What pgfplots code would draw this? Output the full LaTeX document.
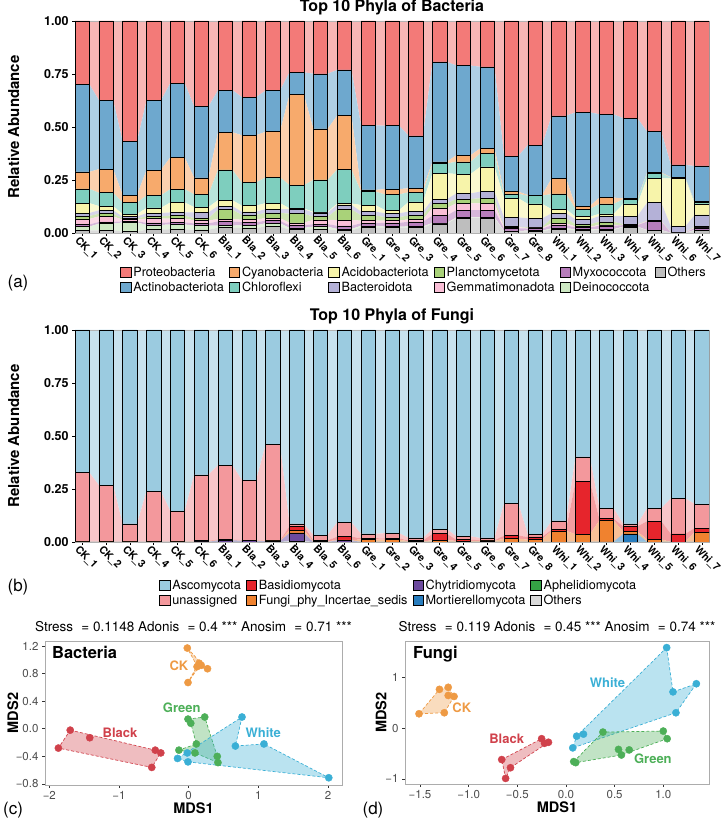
\documentclass[border=0pt]{standalone}
\usepackage{fontspec}
\setmainfont{TeX Gyre Heros}
\usepackage{pgfplots}
\usepackage{pgfplotstable}
\pgfplotsset{compat=1.18}
\newcommand{\fsz}[1]{\fontsize{#1}{#1}\selectfont}

\definecolor{cProt}{RGB}{243,122,120}
\definecolor{cActino}{RGB}{110,168,206}
\definecolor{cCyano}{RGB}{247,170,108}
\definecolor{cChloro}{RGB}{126,206,190}
\definecolor{cAcido}{RGB}{247,244,170}
\definecolor{cBact}{RGB}{180,177,215}
\definecolor{cPlanc}{RGB}{169,210,121}
\definecolor{cGemma}{RGB}{249,190,214}
\definecolor{cMyxo}{RGB}{183,125,187}
\definecolor{cDeino}{RGB}{205,232,195}
\definecolor{cOthB}{RGB}{190,190,190}
\definecolor{cAsco}{RGB}{155,203,224}
\definecolor{cUnas}{RGB}{243,152,156}
\definecolor{cBasid}{RGB}{230,37,44}
\definecolor{cIncert}{RGB}{240,130,47}
\definecolor{cChytr}{RGB}{108,74,158}
\definecolor{cMorti}{RGB}{40,125,190}
\definecolor{cAphel}{RGB}{53,162,69}
\definecolor{cOthF}{RGB}{217,217,217}
\definecolor{gBlack}{RGB}{208,65,75}
\definecolor{gCK}{RGB}{238,154,68}
\definecolor{gGreen}{RGB}{77,175,88}
\definecolor{gWhite}{RGB}{58,175,213}
\definecolor{tickgray}{RGB}{77,77,77}

\pgfplotstableread{
idx Prot Actino Cyano Chloro Acido Bact Planc Gemma Myxo Deino Others
1 0.298 0.414 0.080 0.067 0.047 0.014 0.014 0.026 0.010 0.018 0.012
2 0.373 0.326 0.111 0.063 0.020 0.016 0.013 0.026 0.008 0.031 0.013
3 0.569 0.252 0.036 0.054 0.012 0.008 0.006 0.008 0.005 0.044 0.006
4 0.376 0.328 0.119 0.059 0.024 0.016 0.010 0.020 0.010 0.022 0.016
5 0.293 0.350 0.150 0.063 0.047 0.015 0.014 0.018 0.010 0.022 0.018
6 0.404 0.336 0.078 0.060 0.025 0.027 0.010 0.015 0.010 0.020 0.015
7 0.326 0.199 0.177 0.143 0.028 0.017 0.045 0.010 0.020 0.010 0.025
8 0.359 0.180 0.223 0.109 0.029 0.015 0.022 0.012 0.015 0.012 0.024
9 0.328 0.194 0.215 0.122 0.028 0.018 0.025 0.012 0.012 0.016 0.030
10 0.242 0.105 0.428 0.109 0.003 0.022 0.043 0.012 0.012 0.008 0.016
11 0.249 0.260 0.241 0.151 0.004 0.018 0.015 0.020 0.012 0.012 0.018
12 0.231 0.215 0.255 0.160 0.006 0.022 0.050 0.027 0.015 0.007 0.012
13 0.492 0.305 0.008 0.063 0.031 0.018 0.025 0.012 0.012 0.008 0.026
14 0.494 0.299 0.025 0.074 0.015 0.018 0.017 0.010 0.018 0.005 0.025
15 0.542 0.247 0.019 0.045 0.046 0.018 0.018 0.012 0.022 0.006 0.025
16 0.193 0.471 0.008 0.046 0.123 0.019 0.022 0.036 0.035 0.004 0.043
17 0.210 0.423 0.031 0.058 0.091 0.027 0.020 0.032 0.034 0.004 0.070
18 0.216 0.385 0.024 0.063 0.117 0.031 0.024 0.032 0.034 0.004 0.070
19 0.637 0.168 0.010 0.021 0.090 0.044 0.003 0.005 0.012 0.002 0.008
20 0.585 0.236 0.003 0.039 0.068 0.042 0.003 0.003 0.010 0.003 0.008
21 0.447 0.295 0.074 0.072 0.019 0.024 0.023 0.010 0.014 0.006 0.016
22 0.431 0.442 0.014 0.036 0.013 0.023 0.011 0.004 0.008 0.006 0.012
23 0.440 0.393 0.030 0.047 0.010 0.027 0.015 0.004 0.016 0.004 0.014
24 0.459 0.378 0.004 0.022 0.057 0.039 0.002 0.002 0.007 0.002 0.028
25 0.522 0.193 0.003 0.024 0.115 0.085 0.002 0.002 0.040 0.002 0.012
26 0.679 0.058 0.002 0.004 0.227 0.026 0.001 0.001 0.001 0.000 0.001
27 0.684 0.168 0.003 0.008 0.052 0.055 0.003 0.003 0.010 0.002 0.012
}\bact

\pgfplotstableread{
idx Asco Unas Basid Incert Chytr Morti Aphel Others
1 0.672 0.326 0.001 0.001 0 0 0 0
2 0.732 0.266 0.001 0.001 0 0 0 0
3 0.915 0.083 0.001 0.001 0 0 0 0
4 0.760 0.238 0.001 0.001 0 0 0 0
5 0.854 0.144 0.001 0.001 0 0 0 0
6 0.683 0.311 0.003 0.002 0.001 0 0 0
7 0.637 0.352 0.002 0.001 0.008 0 0 0
8 0.708 0.283 0.002 0.001 0.006 0 0 0
9 0.540 0.454 0.001 0.001 0.004 0 0 0
10 0.914 0.011 0.019 0.013 0.040 0 0 0.003
11 0.967 0.025 0.005 0.003 0 0 0 0
12 0.907 0.068 0.015 0.002 0.008 0 0 0
13 0.962 0.020 0.007 0.011 0 0 0 0
14 0.958 0.025 0.006 0.011 0 0 0 0
15 0.981 0.012 0.004 0.003 0 0 0 0
16 0.939 0.022 0.031 0.008 0 0 0 0
17 0.973 0.016 0.006 0.005 0 0 0 0
18 0.981 0.011 0.003 0.005 0 0 0 0
19 0.819 0.151 0.014 0.016 0 0 0 0
20 0.965 0.011 0.013 0.011 0 0 0 0
21 0.900 0.042 0.005 0.053 0 0 0 0
22 0.598 0.116 0.250 0.036 0 0 0 0
23 0.841 0.049 0.009 0.100 0 0.001 0 0
24 0.915 0.011 0.025 0.011 0 0.038 0 0
25 0.841 0.061 0.086 0.011 0 0 0.001 0
26 0.794 0.168 0.038 0 0 0 0 0
27 0.821 0.113 0.020 0.046 0 0 0 0
}\fung

% flow tables: each sample at both bar edges
\pgfplotstablevertcat{\bL}{\bact}
\pgfplotstablecreatecol[expr={\thisrow{idx}-0.3}]{fx}{\bL}
\pgfplotstablevertcat{\bR}{\bact}
\pgfplotstablecreatecol[expr={\thisrow{idx}+0.3}]{fx}{\bR}
\pgfplotstablevertcat{\bL}{\bR}
\pgfplotstablesort[sort key=fx]{\bflows}{\bL}

\pgfplotstablevertcat{\fL}{\fung}
\pgfplotstablecreatecol[expr={\thisrow{idx}-0.3}]{fx}{\fL}
\pgfplotstablevertcat{\fR}{\fung}
\pgfplotstablecreatecol[expr={\thisrow{idx}+0.3}]{fx}{\fR}
\pgfplotstablevertcat{\fL}{\fR}
\pgfplotstablesort[sort key=fx]{\fflows}{\fL}

\pgfplotsset{
  barbase/.style={scale only axis, width=634pt, height=212pt,
    xmin=0.7, xmax=27.3, ymin=0, ymax=1, anchor=south west},
  flowbase/.style={barbase, hide axis, stack plots=y},
  barax/.style={barbase, ybar stacked, bar width=0.6,
    tick align=outside, tick pos=left, major tick length=3pt,
    tick style={draw=black, line width=0.6pt},
    axis line style={draw=gray!60, line width=0.6pt},
    xtick={1,...,27},
    xticklabels={CK\_1,CK\_2,CK\_3,CK\_4,CK\_5,CK\_6,Bla\_1,Bla\_2,Bla\_3,Bla\_4,Bla\_5,Bla\_6,Gre\_1,Gre\_2,Gre\_3,Gre\_4,Gre\_5,Gre\_6,Gre\_7,Gre\_8,Whi\_1,Whi\_2,Whi\_3,Whi\_4,Whi\_5,Whi\_6,Whi\_7},
    xticklabel style={rotate=-45, anchor=north west, font=\fsz{10.5}\bfseries, inner sep=1pt, xshift=-3pt},
    ytick={0,0.25,0.5,0.75,1},
    yticklabels={0.00,0.25,0.50,0.75,1.00},
    yticklabel style={font=\fsz{12.5}\bfseries},
    ylabel={Relative Abundance},
    ylabel style={at={(axis description cs:-0.097,0.5)}, anchor=center, font=\fsz{15}\bfseries},
    title style={font=\fsz{16}\bfseries, yshift=-4pt},
    legend cell align=left,
    legend image code/.code={\draw[##1, draw=black, line width=0.6pt] (0pt,-5pt) rectangle (10.5pt,5pt);},
  },
  lgd/.style={draw=none, fill=none, inner sep=0pt,
    font=\fsz{12.7}, nodes={inner sep=2pt}, row sep=0pt,
    /tikz/every even column/.append style={column sep=3pt}},
  nmds/.style={scale only axis, anchor=south west, tick align=outside, tick pos=left, major tick length=3pt,
    axis line style={draw=gray!65, line width=0.7pt},
    tick style={draw=gray!40!black, line width=0.6pt},
    ticklabel style={font=\fsz{11.5}, text=tickgray},
    xlabel style={font=\fsz{14.5}\bfseries},
    ylabel style={font=\fsz{14.5}\bfseries},
    title style={font=\fsz{13.5}},
  },
  hull/.style={fill=#1, fill opacity=0.35, draw=#1, draw opacity=1, line width=0.7pt, dash pattern=on 3pt off 2pt},
  pts/.style={only marks, mark=*, mark size=3.6pt, color=#1},
}

\begin{document}
\begin{tikzpicture}
\path[use as bounding box] (0pt,0pt) rectangle (725pt,824pt);

% ================= (a) Bacteria =================
\begin{axis}[flowbase, at={(75pt,591pt)}]
\addplot[draw=none, fill=cOthB!55!white] table[x=fx,y=Others]{\bflows} \closedcycle;
\addplot[draw=none, fill=cDeino!55!white] table[x=fx,y=Deino]{\bflows} \closedcycle;
\addplot[draw=none, fill=cMyxo!55!white] table[x=fx,y=Myxo]{\bflows} \closedcycle;
\addplot[draw=none, fill=cGemma!55!white] table[x=fx,y=Gemma]{\bflows} \closedcycle;
\addplot[draw=none, fill=cPlanc!55!white] table[x=fx,y=Planc]{\bflows} \closedcycle;
\addplot[draw=none, fill=cBact!55!white] table[x=fx,y=Bact]{\bflows} \closedcycle;
\addplot[draw=none, fill=cAcido!55!white] table[x=fx,y=Acido]{\bflows} \closedcycle;
\addplot[draw=none, fill=cChloro!55!white] table[x=fx,y=Chloro]{\bflows} \closedcycle;
\addplot[draw=none, fill=cCyano!55!white] table[x=fx,y=Cyano]{\bflows} \closedcycle;
\addplot[draw=none, fill=cActino!55!white] table[x=fx,y=Actino]{\bflows} \closedcycle;
\addplot[draw=none, fill=cProt!55!white] table[x=fx,y=Prot]{\bflows} \closedcycle;
\end{axis}

\begin{axis}[barax, at={(75pt,591pt)},
  title={Top 10 Phyla of Bacteria},
  legend columns=6,
  legend style={lgd, at={(0.071,-0.222)}, anchor=west},
]
\addlegendimage{fill=cProt}\addlegendentry{Proteobacteria}
\addlegendimage{fill=cCyano}\addlegendentry{Cyanobacteria}
\addlegendimage{fill=cAcido}\addlegendentry{Acidobacteriota}
\addlegendimage{fill=cPlanc}\addlegendentry{Planctomycetota}
\addlegendimage{fill=cMyxo}\addlegendentry{Myxococcota}
\addlegendimage{fill=cOthB}\addlegendentry{Others}
\addlegendimage{fill=cActino}\addlegendentry{Actinobacteriota}
\addlegendimage{fill=cChloro}\addlegendentry{Chloroflexi}
\addlegendimage{fill=cBact}\addlegendentry{Bacteroidota}
\addlegendimage{fill=cGemma}\addlegendentry{Gemmatimonadota}
\addlegendimage{fill=cDeino}\addlegendentry{Deinococcota}
\addplot[fill=cOthB, draw=black, line width=0.5pt] table[x=idx,y=Others]{\bact};
\addplot[fill=cDeino, draw=black, line width=0.5pt] table[x=idx,y=Deino]{\bact};
\addplot[fill=cMyxo, draw=black, line width=0.5pt] table[x=idx,y=Myxo]{\bact};
\addplot[fill=cGemma, draw=black, line width=0.5pt] table[x=idx,y=Gemma]{\bact};
\addplot[fill=cPlanc, draw=black, line width=0.5pt] table[x=idx,y=Planc]{\bact};
\addplot[fill=cBact, draw=black, line width=0.5pt] table[x=idx,y=Bact]{\bact};
\addplot[fill=cAcido, draw=black, line width=0.5pt] table[x=idx,y=Acido]{\bact};
\addplot[fill=cChloro, draw=black, line width=0.5pt] table[x=idx,y=Chloro]{\bact};
\addplot[fill=cCyano, draw=black, line width=0.5pt] table[x=idx,y=Cyano]{\bact};
\addplot[fill=cActino, draw=black, line width=0.5pt] table[x=idx,y=Actino]{\bact};
\addplot[fill=cProt, draw=black, line width=0.5pt] table[x=idx,y=Prot]{\bact};
\draw[gray!60!black, line width=1.3pt] (rel axis cs:0,0) -- (rel axis cs:0,1);
\node[anchor=east, font=\fsz{12.8}] at (axis description cs:0.058,-0.222) {Taxon};
\end{axis}

% ================= (b) Fungi =================
\begin{axis}[flowbase, at={(75pt,282pt)}]
\addplot[draw=none, fill=cOthF!55!white] table[x=fx,y=Others]{\fflows} \closedcycle;
\addplot[draw=none, fill=cAphel!50!white] table[x=fx,y=Aphel]{\fflows} \closedcycle;
\addplot[draw=none, fill=cMorti!50!white] table[x=fx,y=Morti]{\fflows} \closedcycle;
\addplot[draw=none, fill=cChytr!50!white] table[x=fx,y=Chytr]{\fflows} \closedcycle;
\addplot[draw=none, fill=cIncert!50!white] table[x=fx,y=Incert]{\fflows} \closedcycle;
\addplot[draw=none, fill=cBasid!45!white] table[x=fx,y=Basid]{\fflows} \closedcycle;
\addplot[draw=none, fill=cUnas!55!white] table[x=fx,y=Unas]{\fflows} \closedcycle;
\addplot[draw=none, fill=cAsco!55!white] table[x=fx,y=Asco]{\fflows} \closedcycle;
\end{axis}

\begin{axis}[barax, at={(75pt,282pt)},
  title={Top 10 Phyla of Fungi},
  legend columns=4,
  legend style={lgd, at={(0.1325,-0.240)}, anchor=west},
]
\addlegendimage{fill=cAsco}\addlegendentry{Ascomycota}
\addlegendimage{fill=cBasid}\addlegendentry{Basidiomycota}
\addlegendimage{fill=cChytr}\addlegendentry{Chytridiomycota}
\addlegendimage{fill=cAphel}\addlegendentry{Aphelidiomycota}
\addlegendimage{fill=cUnas}\addlegendentry{unassigned}
\addlegendimage{fill=cIncert}\addlegendentry{Fungi\_phy\_Incertae\_sedis}
\addlegendimage{fill=cMorti}\addlegendentry{Mortierellomycota}
\addlegendimage{fill=cOthF}\addlegendentry{Others}
\addplot[fill=cOthF, draw=black, line width=0.5pt] table[x=idx,y=Others]{\fung};
\addplot[fill=cAphel, draw=black, line width=0.5pt] table[x=idx,y=Aphel]{\fung};
\addplot[fill=cMorti, draw=black, line width=0.5pt] table[x=idx,y=Morti]{\fung};
\addplot[fill=cChytr, draw=black, line width=0.5pt] table[x=idx,y=Chytr]{\fung};
\addplot[fill=cIncert, draw=black, line width=0.5pt] table[x=idx,y=Incert]{\fung};
\addplot[fill=cBasid, draw=black, line width=0.5pt] table[x=idx,y=Basid]{\fung};
\addplot[fill=cUnas, draw=black, line width=0.5pt] table[x=idx,y=Unas]{\fung};
\addplot[fill=cAsco, draw=black, line width=0.5pt] table[x=idx,y=Asco]{\fung};
\draw[gray!60!black, line width=1.3pt] (rel axis cs:0,0) -- (rel axis cs:0,1);
\node[anchor=east, font=\fsz{12.8}] at (axis description cs:0.126,-0.240) {Taxon};
\end{axis}

% ================= (c) NMDS Bacteria =================
\begin{axis}[nmds, at={(45pt,39pt)}, width=297pt, height=144pt,
  xmin=-2.062, xmax=2.20, ymin=-0.815, ymax=1.272,
  xtick={-2,-1,0,1,2}, xticklabels={−2,−1,0,1,2},
  ytick={-0.8,-0.4,0,0.4,0.8,1.2}, yticklabels={−0.8,−0.4,0.0,0.4,0.8,1.2},
  xlabel={MDS1}, ylabel={MDS2},
  xlabel style={at={(axis description cs:0.5,-0.16)}, anchor=center},
  ylabel style={at={(axis description cs:-0.108,0.5)}, anchor=center},
  title={Stress\,\, = 0.1148 Adonis\,\, = 0.4 *** Anosim\,\, = 0.71 ***},
]
\addplot[hull=gBlack] coordinates {(-1.70,-0.02) (-0.48,-0.31) (-0.40,-0.35) (-0.53,-0.56) (-1.87,-0.28)} -- cycle;
\addplot[hull=gCK] coordinates {(-0.02,1.17) (0.17,0.96) (0.27,0.87) (0.14,0.89) (-0.01,0.67) (0.12,0.91)} -- cycle;
\addplot[hull=gGreen] coordinates {(-0.01,0.14) (0.23,0.17) (0.41,-0.40) (0.42,-0.49) (0.09,-0.35) (-0.14,-0.31) (0.11,-0.22) (0.03,0.08)} -- cycle;
\addplot[hull=gWhite] coordinates {(0.765,0.17) (0.67,-0.25) (1.08,-0.22) (2.01,-0.71) (-0.01,-0.48) (-0.16,-0.43)} -- cycle;
\addplot[pts=gBlack] coordinates {(-1.70,-0.02) (-1.42,-0.13) (-1.87,-0.28) (-0.48,-0.31) (-0.40,-0.35) (-0.53,-0.56)};
\addplot[pts=gCK] coordinates {(-0.02,1.17) (0.15,0.95) (0.12,0.90) (0.18,0.92) (0.27,0.87) (-0.01,0.67)};
\addplot[pts=gGreen] coordinates {(-0.01,0.14) (0.03,0.08) (0.23,0.17) (0.11,-0.22) (-0.14,-0.31) (0.09,-0.35) (0.41,-0.40) (0.42,-0.49)};
\addplot[pts=gWhite] coordinates {(0.765,0.17) (0.67,-0.25) (1.08,-0.22) (2.01,-0.71) (-0.16,-0.43) (-0.01,-0.48) (-0.02,-0.35)};
\node[font=\fsz{13}\bfseries, text=gCK] at (axis cs:-0.14,0.91) {CK};
\node[font=\fsz{13}\bfseries, text=gGreen] at (axis cs:-0.10,0.306) {Green};
\node[font=\fsz{13}\bfseries, text=gBlack] at (axis cs:-0.985,-0.056) {Black};
\node[font=\fsz{13}\bfseries, text=gWhite] at (axis cs:1.07,-0.056) {White};
\node[anchor=north west, font=\fsz{16.5}\bfseries] at (axis description cs:0.012,0.985) {Bacteria};
\end{axis}

% ================= (d) NMDS Fungi =================
\begin{axis}[nmds, at={(405pt,40pt)}, width=304pt, height=143pt,
  xmin=-1.654, xmax=1.47, ymin=-1.10, ymax=1.71,
  xtick={-1.5,-1,-0.5,0,0.5,1}, xticklabels={−1.5,−1.0,−0.5,0.0,0.5,1.0},
  ytick={-1,0,1}, yticklabels={−1,0,1},
  xlabel={MDS1}, ylabel={MDS2},
  xlabel style={at={(axis description cs:0.5,-0.16)}, anchor=center},
  ylabel style={at={(axis description cs:-0.079,0.5)}, anchor=center},
  title={Stress\,\, = 0.119 Adonis\,\, = 0.45 *** Anosim\,\, = 0.74 ***},
]
\addplot[hull=gCK] coordinates {(-1.30,0.76) (-1.21,0.80) (-1.15,0.62) (-1.25,0.30) (-1.51,0.28)} -- cycle;
\addplot[hull=gBlack] coordinates {(-0.66,-0.62) (-0.25,-0.21) (-0.18,-0.28) (-0.57,-0.78) (-0.62,-0.99)} -- cycle;
\addplot[hull=gWhite] coordinates {(1.035,1.58) (1.10,0.71) (1.34,0.87) (1.13,0.30) (0.07,-0.39) (0.11,-0.16)} -- cycle;
\addplot[hull=gGreen] coordinates {(0.08,-0.66) (0.38,-0.08) (1.00,-0.06) (1.04,-0.21) (0.57,-0.53) (0.10,-0.68)} -- cycle;
\addplot[pts=gCK] coordinates {(-1.30,0.76) (-1.21,0.80) (-1.21,0.64) (-1.15,0.62) (-1.51,0.28) (-1.25,0.30)};
\addplot[pts=gBlack] coordinates {(-0.25,-0.21) (-0.22,-0.30) (-0.18,-0.28) (-0.66,-0.62) (-0.57,-0.78) (-0.62,-0.99)};
\addplot[pts=gWhite] coordinates {(1.035,1.58) (1.34,0.87) (1.10,0.71) (1.13,0.30) (0.11,-0.16) (0.18,-0.12) (0.07,-0.39)};
\addplot[pts=gGreen] coordinates {(0.38,-0.08) (1.00,-0.06) (1.04,-0.21) (0.54,-0.42) (0.57,-0.53) (0.65,-0.43) (0.08,-0.66) (0.10,-0.68)};
\node[font=\fsz{13}\bfseries, text=gWhite] at (axis cs:0.427,0.90) {White};
\node[font=\fsz{13}\bfseries, text=gCK] at (axis cs:-1.07,0.39) {CK};
\node[font=\fsz{13}\bfseries, text=gBlack] at (axis cs:-0.609,-0.22) {Black};
\node[font=\fsz{13}\bfseries, text=gGreen] at (axis cs:0.893,-0.60) {Green};
\node[anchor=north west, font=\fsz{16.5}\bfseries] at (axis description cs:0.015,0.985) {Fungi};
\end{axis}

% panel letters
\node[font=\fsz{17}] at (18pt,541pt) {(a)};
\node[font=\fsz{17}] at (18pt,237pt) {(b)};
\node[font=\fsz{17}] at (13pt,14pt) {(c)};
\node[font=\fsz{17}] at (373pt,14pt) {(d)};
\end{tikzpicture}
\end{document}
